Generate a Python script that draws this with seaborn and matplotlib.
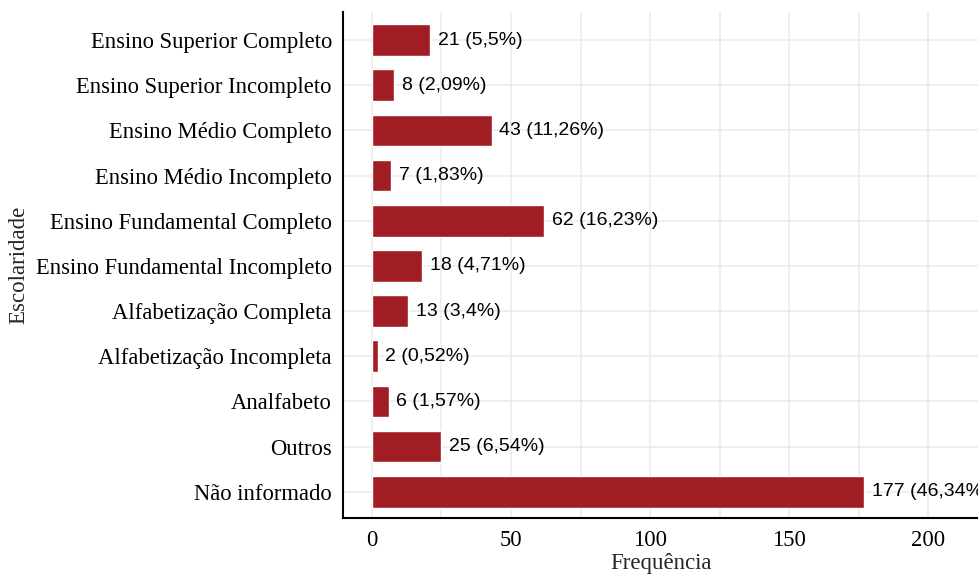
import matplotlib
matplotlib.use("Agg")
import matplotlib.pyplot as plt
from matplotlib.ticker import MultipleLocator
import seaborn as sns
import pandas as pd

# -----------------------------
# Data
# -----------------------------
categorias = [
    "Ensino Superior Completo",
    "Ensino Superior Incompleto",
    "Ensino Médio Completo",
    "Ensino Médio Incompleto",
    "Ensino Fundamental Completo",
    "Ensino Fundamental Incompleto",
    "Alfabetização Completa",
    "Alfabetização Incompleta",
    "Analfabeto",
    "Outros",
    "Não informado",
]
frequencias = [21, 8, 43, 7, 62, 18, 13, 2, 6, 25, 177]
percentuais = ["5,5%", "2,09%", "11,26%", "1,83%", "16,23%", "4,71%",
               "3,4%", "0,52%", "1,57%", "6,54%", "46,34%"]

df = pd.DataFrame({"Escolaridade": categorias, "Frequencia": frequencias})

# -----------------------------
# Style
# -----------------------------
sns.set_style("white")
plt.rcParams["font.family"] = ["Liberation Serif", "DejaVu Serif"]

fig = plt.figure(figsize=(9.79, 5.77), dpi=100)
ax = fig.add_axes([0.3504, 0.1023, 0.6496, 0.8769])

sns.barplot(data=df, y="Escolaridade", x="Frequencia", orient="h",
            color="#A11D24", saturation=1, width=0.7, ax=ax, zorder=3)

# value labels (the last one runs past the panel, as in the original)
for i, (v, p) in enumerate(zip(frequencias, percentuais)):
    ax.text(v + 2.8, i, f"{v} ({p})", va="center", ha="left",
            fontsize=14, family=["Liberation Sans", "DejaVu Sans"],
            color="black", zorder=4, clip_on=True)

ax.set_xlim(-10.4, 218.3)
ax.set_ylim(10.58, -0.62)
ax.xaxis.set_major_locator(MultipleLocator(50))
ax.xaxis.set_minor_locator(MultipleLocator(25))

ax.grid(True, which="major", color="#EBEBEB", linewidth=1.1, zorder=0)
ax.grid(True, which="minor", axis="x", color="#EBEBEB", linewidth=1.1, zorder=0)
ax.set_axisbelow(True)

for s in ["top", "right"]:
    ax.spines[s].set_visible(False)
for s in ["left", "bottom"]:
    ax.spines[s].set_color("black")
    ax.spines[s].set_linewidth(1.5)

ax.tick_params(axis="both", which="major", direction="out", length=5,
               width=1.2, color="#333333", labelsize=16.3, labelcolor="black", pad=3)
ax.tick_params(axis="x", which="major", pad=4)
ax.tick_params(axis="x", which="minor", length=0)

ax.set_xlabel("Frequência", fontsize=16.5, labelpad=1)
ax.set_ylabel("Escolaridade", fontsize=16.5, labelpad=5)

plt.savefig("out.png", dpi=100)
plt.close()
